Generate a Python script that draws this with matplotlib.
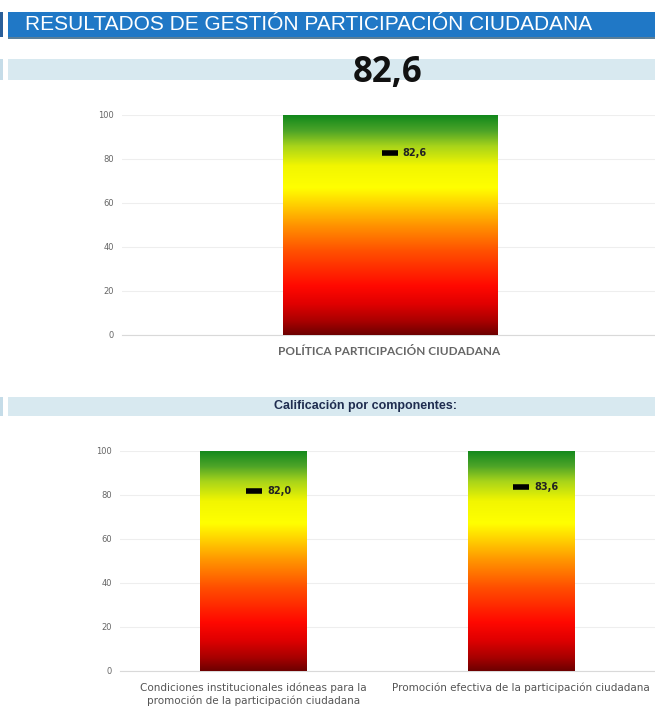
import matplotlib
matplotlib.use("Agg")
import matplotlib.pyplot as plt
import numpy as np
from matplotlib.colors import LinearSegmentedColormap
from matplotlib.patches import Rectangle

W, H = 655, 708

title = "RESULTADOS DE GESTIÓN PARTICIPACIÓN CIUDADANA"
subtitle = "Calificación por componentes:"
overall = 82.6
policy = ["POLÍTICA PARTICIPACIÓN CIUDADANA"]
policy_scores = [82.6]
components = ["Condiciones institucionales idóneas para la\npromoción de la participación ciudadana",
              "Promoción efectiva de la participación ciudadana"]
component_scores = [82.0, 83.6]
scale_max = 100
yticks = [0, 20, 40, 60, 80, 100]

# red -> orange -> yellow -> green, bottom to top
grad_stops = [(0.00, "#6e0000"), (0.06, "#a80000"), (0.14, "#e00000"),
              (0.22, "#ff0800"), (0.38, "#ff5000"), (0.50, "#ff9400"),
              (0.60, "#ffd400"), (0.67, "#ffff00"), (0.77, "#f2f600"),
              (0.86, "#a8d41a"), (0.93, "#4ca428"), (1.00, "#12881c")]
cmap = LinearSegmentedColormap.from_list("semaforo", grad_stops)


def fmt(v):
    return f"{v:.1f}".replace(".", ",")


def px_box(x0, y0, x1, y1):
    return [x0 / W, 1 - y1 / H, (x1 - x0) / W, (y1 - y0) / H]


def add_rect(fig, x0, y0, x1, y1, color):
    b = px_box(x0, y0, x1, y1)
    fig.add_artist(Rectangle((b[0], b[1]), b[2], b[3], transform=fig.transFigure,
                             facecolor=color, edgecolor="none", zorder=0))


def gauge_chart(ax, labels, scores, label_kw, pad_y, pad_x):
    x = np.arange(len(labels))
    bars = ax.bar(x, [scale_max] * len(labels), width=0.4, color="none", zorder=2)
    grad = np.linspace(0, 1, 256).reshape(-1, 1)
    for b in bars:
        im = ax.imshow(grad, cmap=cmap, origin="lower", aspect="auto", interpolation="bilinear",
                       extent=[b.get_x(), b.get_x() + b.get_width(), 0, b.get_height()], zorder=2)
        im.set_clip_path(b)
    ax.plot(x, scores, ls="none", marker="_", ms=11, mew=4, color="black", zorder=3)
    for xi, s in zip(x, scores):
        ax.annotate(fmt(s), (xi, s), xytext=(9.5, 0), textcoords="offset points",
                    va="center", ha="left", fontsize=7, fontweight="bold", color="#222222", zorder=4)
    ax.set_xlim(-0.5, len(labels) - 0.5)
    ax.set_ylim(0, scale_max)
    ax.set_yticks(yticks)
    ax.set_xticks(x)
    ax.set_xticklabels(labels, **label_kw)
    ax.tick_params(axis="y", length=0, pad=pad_y, labelsize=6, labelcolor="#666666")
    ax.tick_params(axis="x", length=0, pad=pad_x)
    ax.yaxis.grid(True, color="#eeeeee", lw=0.8)
    ax.set_axisbelow(True)
    for side in ["top", "right", "left"]:
        ax.spines[side].set_visible(False)
    ax.spines["bottom"].set_color("#d9d9d9")
    ax.spines["bottom"].set_zorder(1)


fig = plt.figure(figsize=(W / 100, H / 100), dpi=100)

# header band
add_rect(fig, 8, 12, 655, 37, "#2078c6")
add_rect(fig, 8, 37, 655, 39, "#5b7f98")
add_rect(fig, 0, 12, 3, 37, "#2a5f9a")
fig.text(25 / W, 1 - 25 / H, title, color="white", fontsize=15,
         family="Liberation Sans", va="center", ha="left")

# overall score strip
add_rect(fig, 8, 59, 655, 80, "#d8e9f0")
add_rect(fig, 0, 59, 3, 80, "#c5dce8")
fig.text(388 / W, 1 - 73 / H, fmt(overall), fontsize=25, fontweight="bold",
         family="Open Sans", color="#111111", va="center", ha="center")

ax1 = fig.add_axes(px_box(122, 115, 657, 335))
gauge_chart(ax1, policy, policy_scores,
            dict(fontsize=8.5, fontweight="bold", family="Lato", color="#666666"), 6, 8)

# components strip
add_rect(fig, 8, 397, 655, 416, "#d8e9f0")
add_rect(fig, 0, 397, 3, 416, "#c5dce8")
fig.text(365 / W, 1 - 406 / H, subtitle, fontsize=9, fontweight="bold",
         family="Liberation Sans", color="#1f2d50", va="center", ha="center")

ax2 = fig.add_axes(px_box(120, 451, 655, 671))
gauge_chart(ax2, components, component_scores,
            dict(fontsize=7.5, family=["Liberation Sans Narrow", "DejaVu Sans"],
                 color="#555555", linespacing=1.35), 6, 8)

fig.savefig("out.png", dpi=100)
